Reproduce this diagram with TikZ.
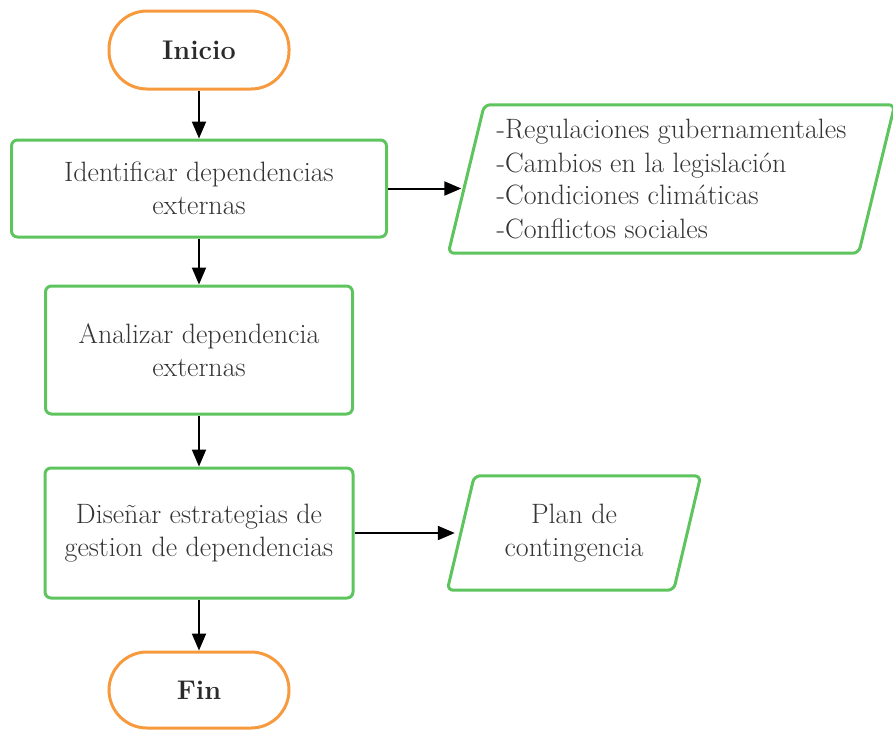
\documentclass[tikz,border=0pt]{standalone}
\usepackage{fontspec}
\usetikzlibrary{arrows.meta,calc}
\definecolor{termorange}{RGB}{247,154,62}
\definecolor{procgreen}{RGB}{94,196,94}
\definecolor{txtgray}{RGB}{52,52,52}

\begin{document}
\begin{tikzpicture}[x=1pt,y=-1pt,
    term/.style={draw=termorange,line width=3pt,rounded corners=38pt,minimum width=180pt,minimum height=78pt,font=\fontsize{27}{30}\selectfont\bfseries,text=txtgray!80!black},
    proc/.style={draw=procgreen,line width=3pt,rounded corners=6pt,align=center,font=\fontsize{28}{33}\selectfont,text=txtgray},
    data/.style={align=left,font=\fontsize{28}{33}\selectfont,text=txtgray},
    databox/.style={draw=procgreen,line width=3pt,rounded corners=6pt},
    arr/.style={line width=2pt,-{Triangle[length=17pt,width=14pt]}}]
    \useasboundingbox (0,0) rectangle (893,729);
    \node[term] (start) at (199, 50) {Inicio};
    \node[proc,minimum width=375pt,minimum height=97pt] (ident) at (199, 188.5) {Identificar dependencias\\externas};
    \node[proc,minimum width=307pt,minimum height=128pt] (anal) at (199, 350) {Analizar dependencia\\externas};
    \node[proc,minimum width=308pt,minimum height=130pt] (design) at (199, 533) {Diseñar estrategias de\\gestion de dependencias};
    \node[term,minimum height=76pt] (end) at (199, 690) {Fin};
    \node[data,minimum width=410pt,minimum height=148pt] (ext) at (671.5, 179) {-Regulaciones gubernamentales\\-Cambios en la legislación\\-Condiciones climáticas\\-Conflictos sociales};
    \node[data,align=center,minimum width=226pt,minimum height=114pt] (plan) at (574, 533) {Plan de\\contingencia};
    % parallelograms round the data nodes
    \draw[databox] ($(ext.north west)+(18,0)$) -- ($(ext.north east)+(18,0)$) -- ($(ext.south east)+(-18,0)$) -- ($(ext.south west)+(-18,0)$) -- cycle;
    \draw[databox] ($(plan.north west)+(13.5,0)$) -- ($(plan.north east)+(13.5,0)$) -- ($(plan.south east)+(-13.5,0)$) -- ($(plan.south west)+(-13.5,0)$) -- cycle;
    \draw[arr] (start) -- (ident);
    \draw[arr] (ident) -- (anal);
    \draw[arr] (anal) -- (design);
    \draw[arr] (design) -- (end);
    \draw[arr,shorten >=5pt] (ident.east) -- (ident.east -| ext.west);
    \draw[arr,shorten >=6pt] (design.east) -- (design.east -| plan.west);
\end{tikzpicture}
\end{document}
